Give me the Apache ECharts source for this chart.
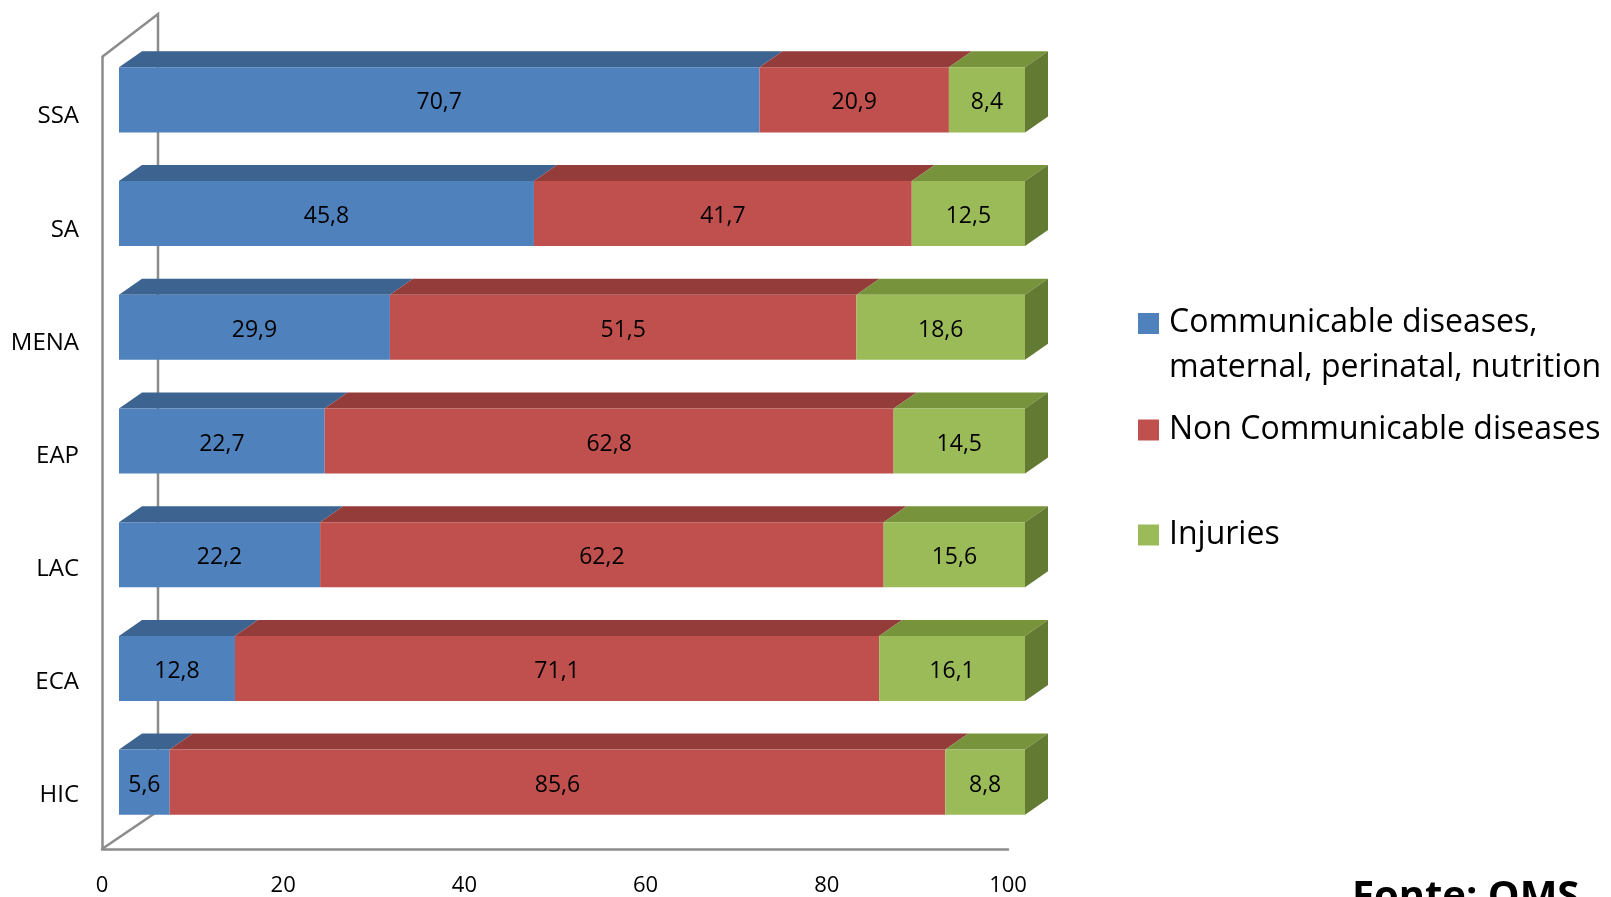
<!DOCTYPE html>
<html><head><meta charset="utf-8">
<script src="https://cdn.jsdelivr.net/npm/echarts@6/dist/echarts.min.js"></script>
<style>html,body{margin:0;padding:0;background:#fff}#c{width:1611px;height:897px}</style>
</head><body><div id="c"></div>
<script>
const categories = ['SSA', 'SA', 'MENA', 'EAP', 'LAC', 'ECA', 'HIC'];
const communicable = [70.7, 45.8, 29.9, 22.7, 22.2, 12.8, 5.6];
const nonCommunicable = [20.9, 41.7, 51.5, 62.8, 62.2, 71.1, 85.6];
const injuries = [8.4, 12.5, 18.6, 14.5, 15.6, 16.1, 8.8];
const xTicks = [0, 20, 40, 60, 80, 100];
const seriesNames = ['Communicable diseases, maternal, perinatal, nutrition', 'Non Communicable diseases', 'Injuries'];
const sourceText = 'Fonte: OMS';

const FONT = '"Open Sans", "Noto Sans", sans-serif';
const AXIS_GRAY = '#8c8c8c';

const off1 = communicable.slice();
const off2 = communicable.map((v, i) => v + nonCommunicable[i]);
function segData(vals, offs) {
  return vals.map((v, i) => [i, offs ? offs[i] : 0, (offs ? offs[i] : 0) + v, v]);
}
function fmt(v) { return String(v).replace('.', ','); }

function makeRender(front, top, side, isLast) {
  return function (params, api) {
    const c = api.value(0), s = api.value(1), e = api.value(2), v = api.value(3);
    const a = api.coord([s, c]), b = api.coord([e, c]);
    const band = api.size([0, 1])[1];
    const h = band * 0.572;
    const yT = a[1] - h / 2, yB = a[1] + h / 2;
    const dx = 23, dy = 16;
    const children = [
      { type: 'polygon', shape: { points: [[a[0], yT], [b[0], yT], [b[0] + dx, yT - dy], [a[0] + dx, yT - dy]] }, style: { fill: top } },
      { type: 'rect', shape: { x: a[0], y: yT, width: b[0] - a[0], height: h }, style: { fill: front } }
    ];
    if (isLast) {
      children.push({ type: 'polygon', shape: { points: [[b[0], yT], [b[0] + dx, yT - dy], [b[0] + dx, yB - dy], [b[0], yB]] }, style: { fill: side } });
    }
    children.push({ type: 'text', x: (a[0] + b[0]) / 2, y: a[1] + 3, style: { text: fmt(v), textAlign: 'center', textVerticalAlign: 'middle', fill: '#000', font: '23px ' + FONT } });
    return { type: 'group', children };
  };
}

const chart = echarts.init(document.getElementById('c'), null, { renderer: 'canvas' });
const legendBase = { orient: 'vertical', padding: 0, itemWidth: 21, itemHeight: 21, icon: 'rect', left: 1138, selectedMode: false };
chart.setOption({
  animation: false,
  backgroundColor: '#fff',
  title: { text: sourceText, left: 1352, top: 878, padding: 0, textStyle: { fontFamily: FONT, fontSize: 40, fontWeight: 'bold', color: '#000', lineHeight: 40 } },
  legend: [
    Object.assign({}, legendBase, {
      data: [seriesNames[0]], top: 307,
      formatter: () => '{a|Communicable diseases,}\n{b|maternal, perinatal, nutrition}',
      textStyle: { color: '#000', padding: [0, 0, 0, 5], rich: { a: { fontFamily: FONT, fontSize: 32, color: '#000', lineHeight: 88 }, b: { fontFamily: FONT, fontSize: 32, color: '#000', lineHeight: 1 } } }
    }),
    Object.assign({}, legendBase, { data: [seriesNames[1]], top: 412, textStyle: { fontFamily: FONT, fontSize: 32, color: '#000', lineHeight: 36, padding: [0, 0, 0, 5] } }),
    Object.assign({}, legendBase, { data: [seriesNames[2]], top: 517, textStyle: { fontFamily: FONT, fontSize: 32, color: '#000', lineHeight: 36, padding: [0, 0, 0, 5] } })
  ],
  grid: [
    { left: 102, top: 57, width: 906, height: 796, containLabel: false },
    { left: 119, top: 43, width: 906, height: 796, containLabel: false }
  ],
  xAxis: [
    { gridIndex: 0, type: 'value', min: xTicks[0], max: xTicks[xTicks.length - 1], interval: xTicks[1] - xTicks[0],
      axisLine: { show: true, lineStyle: { color: AXIS_GRAY, width: 2.5 } }, axisTick: { show: false }, splitLine: { show: false },
      axisLabel: { show: true, fontFamily: FONT, fontSize: 22, color: '#000', margin: 26 } },
    { gridIndex: 1, type: 'value', min: 0, max: 100, show: false }
  ],
  yAxis: [
    { gridIndex: 0, type: 'category', data: categories, inverse: true,
      axisLine: { show: true, lineStyle: { color: AXIS_GRAY, width: 2.5 } }, axisTick: { show: false }, splitLine: { show: false },
      axisLabel: { show: true, color: '#000', margin: 23, formatter: v => '{c|' + v + '}',
        rich: { c: { fontFamily: FONT, fontSize: 24, color: '#000', lineHeight: 30, padding: [6, 0, 0, 0] } } } },
    { gridIndex: 1, type: 'category', data: categories, inverse: true, show: false }
  ],
  series: [
    { type: 'custom', name: 'frame', xAxisIndex: 0, yAxisIndex: 0, silent: true, z: 1, data: [[0, 0]], encode: { x: 0, y: 1 },
      renderItem: function (params, api) {
        const cs = params.coordSys;
        const L = cs.x, T = cs.y, B = cs.y + cs.height;
        return { type: 'polyline', shape: { points: [[L, T], [L + 56, T - 43], [L + 56, B - 38], [L, B]] }, style: { stroke: AXIS_GRAY, lineWidth: 2.5, fill: null, lineJoin: 'miter' } };
      } },
    { type: 'custom', name: seriesNames[0], xAxisIndex: 1, yAxisIndex: 1, z: 3, itemStyle: { color: '#4f81bd' },
      data: segData(communicable, null), encode: { x: [1, 2], y: 0 }, renderItem: makeRender('#4f81bd', '#3d6390', '#3d6390', false) },
    { type: 'custom', name: seriesNames[1], xAxisIndex: 1, yAxisIndex: 1, z: 3, itemStyle: { color: '#c0504d' },
      data: segData(nonCommunicable, off1), encode: { x: [1, 2], y: 0 }, renderItem: makeRender('#c0504d', '#943c3a', '#943c3a', false) },
    { type: 'custom', name: seriesNames[2], xAxisIndex: 1, yAxisIndex: 1, z: 3, itemStyle: { color: '#9bbb59' },
      data: segData(injuries, off2), encode: { x: [1, 2], y: 0 }, renderItem: makeRender('#9bbb59', '#77933c', '#637a33', true) }
  ]
});
</script></body></html>
